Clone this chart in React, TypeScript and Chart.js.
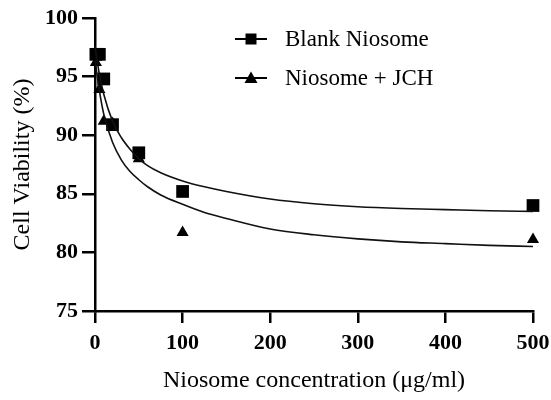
import React, { useEffect, useRef } from "react";
import { Chart, registerables } from "chart.js";

Chart.register(...registerables);

const concentrations = [1, 5, 10, 20, 50, 100, 500];
const blankViability = [96.9, 96.9, 94.8, 90.9, 88.5, 85.2, 84.0];
const jchViability = [96.2, 93.9, 91.2, 91.0, 88.0, 81.7, 81.1];

const fitConcentrations = [0, 5, 10, 20, 30, 40, 50, 60, 75, 100, 125, 150, 200, 250, 300, 350, 400, 450, 500];
const blankFit = [97.6, 95.2, 93.5, 91.2, 89.8, 88.8, 88.0, 87.4, 86.8, 86.1, 85.6, 85.2, 84.55, 84.15, 83.9, 83.75, 83.65, 83.55, 83.5];
const jchFit = [96.4, 93.8, 91.8, 89.4, 87.9, 86.9, 86.2, 85.6, 84.9, 84.1, 83.4, 82.9, 82.0, 81.5, 81.15, 80.9, 80.75, 80.6, 80.5];

const xTicks = [0, 100, 200, 300, 400, 500];
const yTicks = [75, 80, 85, 90, 95, 100];

const seriesNames = ["Blank Niosome", "Niosome + JCH"];
const xTitle = "Niosome concentration (\u03bcg/ml)";
const yTitle = "Cell Viability (%)";

const FONT = "'Liberation Serif', 'Times New Roman', serif";

const pairs = (xs: number[], ys: number[]) => xs.map((x, i) => ({ x, y: ys[i] }));

const legendPlugin = {
  id: "customLegend",
  afterDraw(chart: any) {
    const ctx = chart.ctx as CanvasRenderingContext2D;
    ctx.save();
    const rows = [
      { y: 39, style: "rect", label: seriesNames[0] },
      { y: 78, style: "triangle", label: seriesNames[1] },
    ];
    rows.forEach((r) => {
      ctx.strokeStyle = "#000";
      ctx.fillStyle = "#000";
      ctx.lineWidth = 2;
      ctx.beginPath();
      ctx.moveTo(235, r.y);
      ctx.lineTo(267, r.y);
      ctx.stroke();
      const cx = 251;
      ctx.beginPath();
      if (r.style === "rect") {
        ctx.rect(cx - 5.5, r.y - 5.5, 11, 11);
      } else {
        ctx.moveTo(cx, r.y - 6.5);
        ctx.lineTo(cx + 6.5, r.y + 5);
        ctx.lineTo(cx - 6.5, r.y + 5);
        ctx.closePath();
      }
      ctx.fill();
      ctx.font = `23px ${FONT}`;
      ctx.textAlign = "left";
      ctx.textBaseline = "middle";
      ctx.fillText(r.label, 285, r.y + 1);
    });
    ctx.restore();
  },
};

export default function App() {
  const ref = useRef<HTMLCanvasElement | null>(null);
  useEffect(() => {
    if (!ref.current) return;
    const chart = new Chart(ref.current, {
      type: "scatter",
      data: {
        datasets: [
          {
            label: seriesNames[0] + " fit",
            data: pairs(fitConcentrations, blankFit),
            showLine: true,
            borderColor: "#111",
            borderWidth: 1.6,
            pointRadius: 0,
            cubicInterpolationMode: "monotone",
            clip: false,
          } as any,
          {
            label: seriesNames[1] + " fit",
            data: pairs(fitConcentrations, jchFit),
            showLine: true,
            borderColor: "#111",
            borderWidth: 1.6,
            pointRadius: 0,
            cubicInterpolationMode: "monotone",
            clip: false,
          } as any,
          {
            label: seriesNames[0],
            data: pairs(concentrations, blankViability),
            pointStyle: "rect",
            pointRadius: 9,
            backgroundColor: "#000",
            borderColor: "#000",
            borderWidth: 0,
            showLine: false,
            clip: false,
          } as any,
          {
            label: seriesNames[1],
            data: pairs(concentrations, jchViability),
            pointStyle: "triangle",
            pointRadius: 7,
            backgroundColor: "#000",
            borderColor: "#000",
            borderWidth: 0,
            showLine: false,
            clip: false,
          } as any,
        ],
      },
      options: {
        responsive: false,
        animation: false,
        layout: { padding: { top: 18, right: 18, left: 0, bottom: 0 } },
        plugins: {
          legend: { display: false },
          tooltip: { enabled: false },
        },
        scales: {
          x: {
            type: "linear",
            min: 0,
            max: 500,
            afterFit: (s: any) => {
              s.height = 89;
              s.paddingLeft = 0;
              s.paddingRight = 0;
            },
            afterBuildTicks: (s: any) => {
              s.ticks = xTicks.map((v) => ({ value: v }));
            },
            ticks: {
              color: "#000",
              font: { family: FONT, size: 22, weight: "bold" },
              padding: 7,
              maxRotation: 0,
            },
            grid: {
              drawOnChartArea: false,
              drawTicks: true,
              tickLength: 12,
              color: "#000",
              lineWidth: 2.5,
            },
            border: { display: true, color: "#000", width: 2.5 },
            title: {
              display: true,
              text: xTitle,
              color: "#000",
              font: { family: FONT, size: 24 },
              padding: { top: 0, bottom: 5 },
            },
          },
          y: {
            type: "linear",
            min: 75,
            max: 100,
            afterFit: (s: any) => {
              s.width = 95;
              s.paddingTop = 0;
              s.paddingBottom = 0;
            },
            afterBuildTicks: (s: any) => {
              s.ticks = yTicks.map((v) => ({ value: v }));
            },
            ticks: {
              color: "#000",
              font: { family: FONT, size: 22, weight: "bold" },
              padding: 4,
            },
            grid: {
              drawOnChartArea: false,
              drawTicks: true,
              tickLength: 13,
              color: "#000",
              lineWidth: 2.5,
            },
            border: { display: true, color: "#000", width: 2.5 },
            title: {
              display: true,
              text: yTitle,
              color: "#000",
              font: { family: FONT, size: 24 },
              padding: { top: 8, bottom: 0 },
            },
          },
        },
      },
      plugins: [legendPlugin],
    });
    return () => chart.destroy();
  }, []);
  return (
    <div style={{ position: "absolute", left: 0, top: 0, width: 551, height: 400, background: "#fff" }}>
      <canvas ref={ref} width={551} height={400} style={{ display: "block" }} />
    </div>
  );
}
